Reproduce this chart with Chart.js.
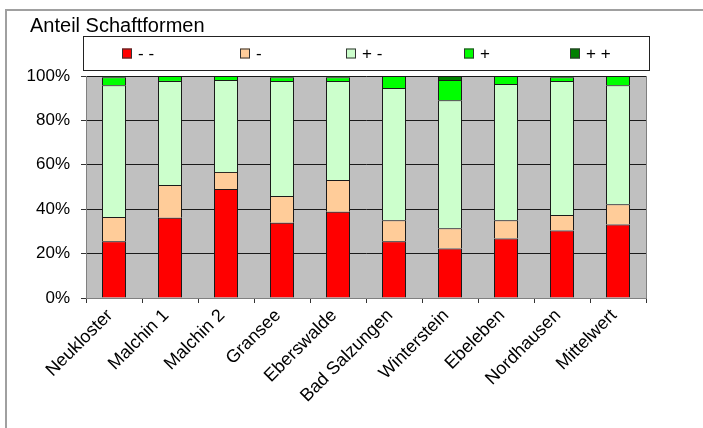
<!DOCTYPE html>
<html lang="de">
  <head>
    <meta charset="UTF-8" />
    <title>Anteil Schaftformen</title>
    <script src="https://cdn.jsdelivr.net/npm/chart.js@4/dist/chart.umd.min.js"></script>
    <style>
      body {
        margin: 0;
        background: #fff;
      }
      canvas {
        display: block;
      }
    </style>
  </head>
  <body>
    <canvas id="chart" width="703" height="428"></canvas>
    <script>
      const FONT = "'Liberation Sans', Arial, sans-serif"

      const title = 'Anteil Schaftformen'

      const sites = [
        'Neukloster',
        'Malchin 1',
        'Malchin 2',
        'Gransee',
        'Eberswalde',
        'Bad Salzungen',
        'Winterstein',
        'Ebeleben',
        'Nordhausen',
        'Mittelwert'
      ]

      // shares in percent, one list per stem form class
      const veryBad = [25.6, 36.1, 49.1, 33.9, 38.9, 25.6, 22.3, 26.8, 30.4, 33.1]
      const bad = [10.9, 14.8, 7.7, 12.1, 14.3, 9.4, 9.1, 8.2, 7.0, 9.1]
      const neutral = [59.3, 46.9, 41.4, 51.8, 44.6, 59.6, 57.7, 61.4, 60.4, 53.6]
      const good = [3.6, 2.2, 1.8, 1.6, 1.6, 5.4, 9.1, 3.6, 1.6, 4.2]
      const veryGood = [0.6, 0, 0, 0.6, 0.6, 0, 1.8, 0, 0.6, 0]

      const classLabels = ['- -', '-', '+ -', '+', '+ +']
      const classColors = ['#ff0000', '#ffcc99', '#ccffcc', '#00ff00', '#008000']
      const yTicks = [0, 20, 40, 60, 80, 100]

      const series = [veryBad, bad, neutral, good, veryGood]

      // grey plot background and the outer frame
      const frame = {
        id: 'frame',
        beforeDraw(chart) {
          const { ctx, chartArea: a } = chart
          ctx.save()
          ctx.fillStyle = '#c0c0c0'
          ctx.fillRect(a.left, a.top, a.right - a.left, a.bottom - a.top)
          ctx.strokeStyle = '#808080'
          ctx.lineWidth = 1
          ctx.beginPath()
          ctx.moveTo(a.right + 0.5, a.top)
          ctx.lineTo(a.right + 0.5, a.bottom)
          ctx.stroke()
          ctx.strokeStyle = '#a0a0a0'
          ctx.lineWidth = 2
          ctx.beginPath()
          ctx.moveTo(6, chart.height)
          ctx.lineTo(6, 10)
          ctx.lineTo(chart.width, 10)
          ctx.stroke()
          ctx.restore()
        },
        afterDraw(chart) {
          const ctx = chart.ctx
          ctx.save()
          ctx.fillStyle = '#000'
          ctx.font = '20px ' + FONT
          ctx.textBaseline = 'alphabetic'
          ctx.fillText(title, 30, 32)

          // boxed legend with the items centred in equal slots
          const box = { x: 83, y: 36, w: 566, h: 34 }
          ctx.strokeStyle = '#222'
          ctx.lineWidth = 1
          ctx.strokeRect(box.x + 0.5, box.y + 0.5, box.w, box.h)
          ctx.font = '17px ' + FONT
          ctx.textBaseline = 'middle'
          const slot = box.w / chart.data.datasets.length
          const cy = box.y + box.h / 2 + 0.5
          chart.data.datasets.forEach((ds, i) => {
            const tw = ctx.measureText(ds.label).width
            const iw = 10 + 6 + tw
            const x0 = Math.round(box.x + slot * i + (slot - iw) / 2) - 2
            ctx.fillStyle = ds.backgroundColor
            ctx.fillRect(x0, cy - 5, 10, 10)
            ctx.strokeStyle = '#333'
            ctx.strokeRect(x0 + 0.5, cy - 4.5, 9, 9)
            ctx.fillStyle = '#000'
            ctx.fillText(ds.label, x0 + 16, cy + 1)
          })
          ctx.restore()
        }
      }

      new Chart(document.getElementById('chart'), {
        type: 'bar',
        data: {
          labels: sites,
          datasets: series.map((values, i) => ({
            label: classLabels[i],
            data: values,
            backgroundColor: classColors[i],
            borderColor: '#1a1a1a',
            // each segment draws its own top edge, so joins stay 1px
            borderWidth: { top: 1, left: 1, right: 1, bottom: 0 },
            borderSkipped: false,
            inflateAmount: 0,
            barThickness: 24
          }))
        },
        options: {
          responsive: false,
          animation: false,
          devicePixelRatio: 1,
          // 560 px wide plot -> whole-pixel category centres
          layout: { padding: { left: 0, top: 76, right: 57, bottom: 0 } },
          plugins: {
            legend: { display: false },
            title: { display: false },
            tooltip: { enabled: false }
          },
          scales: {
            x: {
              stacked: true,
              afterFit(scale) {
                scale.height = 130
              },
              border: { color: '#808080', width: 1 },
              grid: {
                offset: true,
                drawOnChartArea: false,
                tickLength: 5,
                tickColor: '#333'
              },
              ticks: {
                color: '#000',
                font: { family: FONT, size: 18 },
                minRotation: 45,
                maxRotation: 45,
                autoSkip: false,
                labelOffset: -4,
                padding: 2
              }
            },
            y: {
              stacked: true,
              min: 0,
              max: 100,
              afterFit(scale) {
                scale.width = 86
              },
              afterBuildTicks(scale) {
                scale.ticks = yTicks.map(v => ({ value: v }))
              },
              border: { color: '#808080', width: 1 },
              grid: {
                color: c => (c.tick && c.tick.value === 0 ? '#808080' : '#1a1a1a'),
                tickColor: '#333',
                tickLength: 5,
                lineWidth: 1
              },
              ticks: {
                color: '#000',
                font: { family: FONT, size: 17 },
                padding: 11,
                callback: v => v + '%'
              }
            }
          }
        },
        plugins: [frame]
      })
    </script>
  </body>
</html>
